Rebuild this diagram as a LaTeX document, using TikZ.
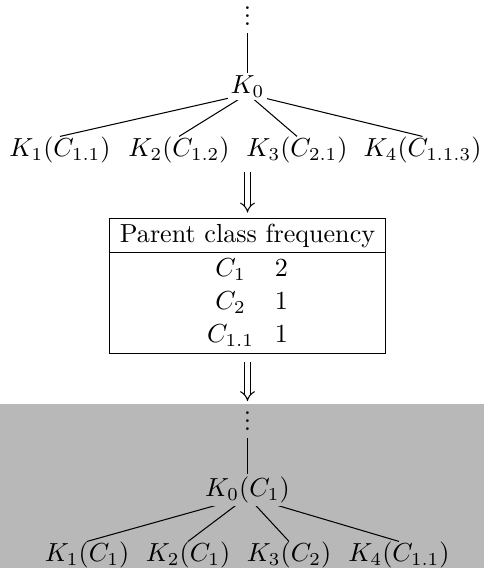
\documentclass[tikz,border=0pt]{standalone}
\usepackage{amsmath}
\usepackage{tikz}
\usetikzlibrary{arrows.meta,backgrounds}
\setlength{\tabcolsep}{4pt}
\renewcommand{\arraystretch}{1.06}
\colorlet{resgray}{black!28}
\newcommand{\vdts}{\vbox{\baselineskip3.2pt\lineskiplimit0pt\hbox{.}\hbox{.}\hbox{.}}}
\tikzset{
  tnode/.style   = {inner sep=0pt},
  rnode/.style   = {inner sep=1pt, fill=white},
  dnode/.style   = {inner sep=1pt, anchor=south},
  twire/.style   = {line width=0.4pt},
  darr/.style    = {line width=0.4pt, double, double distance=1.6pt,
                    -{Implies[scale=1.3]}},
  ftab/.style    = {inner sep=0pt},
  resbox/.style  = {draw=none, inner sep=0pt, anchor=south west},
}

\begin{document}
\begin{tikzpicture}
  \useasboundingbox (0,0) rectangle (6.505,7.649);
  % input tree
  \node[dnode] (vd) at (3.333,7.257) {\vdts};
  \node[rnode] (k0) at (3.333,6.478) {$K_0$};
  \node[tnode] (k1) at (0.808,5.629) {$K_1(C_{1.1})$};
  \node[tnode] (k2) at (2.411,5.629) {$K_2(C_{1.2})$};
  \node[tnode] (k3) at (4.000,5.629) {$K_3(C_{2.1})$};
  \node[tnode] (k4) at (5.690,5.629) {$K_4(C_{1.1.3})$};
  % frequency table
  \node[ftab] (tab) at (3.333,3.798) {%
    \begin{tabular}{|c|}
      \hline
      Parent class frequency\\
      \hline
      \begin{tabular}{cc}
        $C_1$ & 2\\
        $C_2$ & 1\\
        $C_{1.1}$ & 1
      \end{tabular}\\
      \hline
    \end{tabular}};
  % relabelled tree
  \node[resbox, minimum width=6.505cm, minimum height=2.195cm] (res) at (0,0) {};
  \node[dnode] (vdb) at (3.333,1.803) {\vdts};
  \node[rnode, fill=resgray] (r0) at (3.333,1.050) {$K_0(C_1)$};
  \node[tnode] (r1) at (1.172,0.175) {$K_1(C_1)$};
  \node[tnode] (r2) at (2.532,0.175) {$K_2(C_1)$};
  \node[tnode] (r3) at (3.892,0.175) {$K_3(C_2)$};
  \node[tnode] (r4) at (5.373,0.175) {$K_4(C_{1.1})$};
  % edges go under the labels
  \begin{scope}[on background layer]
    \fill[resgray] (res.south west) rectangle (res.north east);
    \draw[twire, shorten <=1.5pt, shorten >=-2pt] (vd) -- (k0.north);
    \foreach \c in {k1,k2,k3,k4} \draw[twire] (k0.base) -- (\c.north);
    \draw[twire, shorten <=1.5pt] (vdb) -- (r0.north);
    \foreach \c in {r1,r2,r3,r4} \draw[twire] (r0.base) -- (\c.north);
  \end{scope}
  \draw[darr, shorten <=3.4pt, shorten >=1.9pt] (tab.north |- k2.south) -- (tab.north);
  \draw[darr, shorten <=3pt, shorten >=1.1pt] (tab.south) -- (tab.south |- res.north);
\end{tikzpicture}
\end{document}
